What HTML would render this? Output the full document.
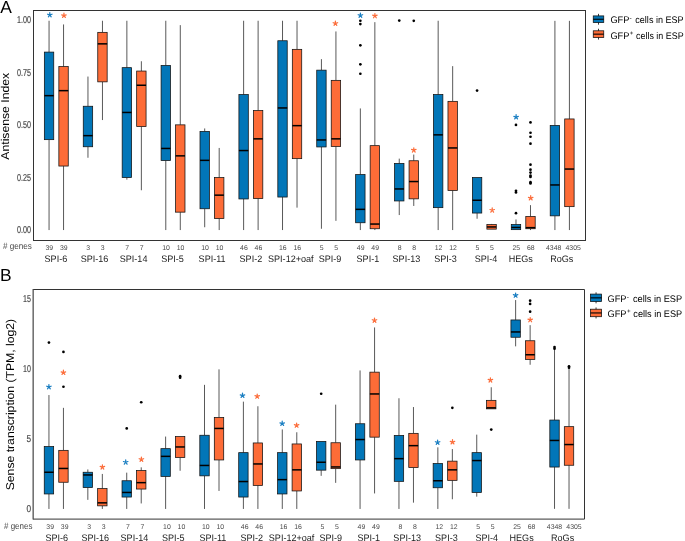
<!DOCTYPE html>
<html><head><meta charset="utf-8"><style>
html,body{margin:0;padding:0;background:#fff;width:685px;height:541px;overflow:hidden}
svg{display:block;will-change:transform}
text{font-family:"Liberation Sans", sans-serif;text-rendering:geometricPrecision}
.w{stroke:#222;stroke-width:0.75}
.bx{stroke:#111;stroke-width:0.75}
.md{stroke:#000;stroke-width:1.5}
.fr{fill:none;stroke:#333333;stroke-width:1}
.tk{fill:#4a4a4a;font-size:10px;stroke:#4a4a4a;stroke-width:0.2px}
.nm{fill:#4a4a4a;font-size:6.9px}
.gl{fill:#1a1a1a;font-size:9.45px}
.lg{fill:#000;font-size:9.6px}
</style></head><body>
<svg width="685" height="541" viewBox="0 0 685 541">
<text x="0.2" y="12.6" style="font-size:17.4px" fill="#000">A</text>
<text x="0" y="280.9" style="font-size:17.4px" fill="#000">B</text>
<text transform="translate(9.3,116.3) scale(0.93,1) rotate(-90)" text-anchor="middle" style="font-size:12.2px" fill="#000">Antisense Index</text>
<text transform="translate(13.9,404.6) scale(0.93,1) rotate(-90)" text-anchor="middle" style="font-size:12.2px" fill="#000">Sense transcription (TPM, log2)</text>
<text x="31" y="23.45" text-anchor="end" class="tk" textLength="14" lengthAdjust="spacingAndGlyphs">1.00</text>
<text x="31" y="75.89" text-anchor="end" class="tk" textLength="14" lengthAdjust="spacingAndGlyphs">0.75</text>
<text x="31" y="128.33" text-anchor="end" class="tk" textLength="14" lengthAdjust="spacingAndGlyphs">0.50</text>
<text x="31" y="180.76" text-anchor="end" class="tk" textLength="14" lengthAdjust="spacingAndGlyphs">0.25</text>
<text x="31" y="233.20" text-anchor="end" class="tk" textLength="14" lengthAdjust="spacingAndGlyphs">0.00</text>
<text x="31" y="302.25" text-anchor="end" class="tk" textLength="7.9" lengthAdjust="spacingAndGlyphs">15</text>
<text x="31" y="372.02" text-anchor="end" class="tk" textLength="7.9" lengthAdjust="spacingAndGlyphs">10</text>
<text x="31" y="441.79" text-anchor="end" class="tk" textLength="4.6" lengthAdjust="spacingAndGlyphs">5</text>
<text x="31" y="511.55" text-anchor="end" class="tk" textLength="4.6" lengthAdjust="spacingAndGlyphs">0</text>
<line x1="49.05" y1="20.75" x2="49.05" y2="52.10" class="w"/>
<line x1="49.05" y1="139.65" x2="49.05" y2="230.05" class="w"/>
<rect x="44.35" y="52.10" width="9.40" height="87.55" fill="#0276B8" class="bx"/>
<line x1="44.35" y1="95.65" x2="53.75" y2="95.65" class="md"/>
<line x1="63.55" y1="24.45" x2="63.55" y2="66.55" class="w"/>
<line x1="63.55" y1="166.05" x2="63.55" y2="230.05" class="w"/>
<rect x="58.85" y="66.55" width="9.40" height="99.50" fill="#FD6C37" class="bx"/>
<line x1="58.85" y1="90.65" x2="68.25" y2="90.65" class="md"/>
<line x1="87.96" y1="76.55" x2="87.96" y2="106.25" class="w"/>
<line x1="87.96" y1="146.75" x2="87.96" y2="157.75" class="w"/>
<rect x="83.26" y="106.25" width="9.40" height="40.50" fill="#0276B8" class="bx"/>
<line x1="83.26" y1="135.65" x2="92.66" y2="135.65" class="md"/>
<line x1="102.46" y1="20.75" x2="102.46" y2="32.35" class="w"/>
<line x1="102.46" y1="81.85" x2="102.46" y2="120.05" class="w"/>
<rect x="97.76" y="32.35" width="9.40" height="49.50" fill="#FD6C37" class="bx"/>
<line x1="97.76" y1="43.85" x2="107.16" y2="43.85" class="md"/>
<line x1="126.87" y1="20.75" x2="126.87" y2="67.65" class="w"/>
<line x1="126.87" y1="177.55" x2="126.87" y2="179.65" class="w"/>
<rect x="122.17" y="67.65" width="9.40" height="109.90" fill="#0276B8" class="bx"/>
<line x1="122.17" y1="112.45" x2="131.57" y2="112.45" class="md"/>
<line x1="141.37" y1="61.25" x2="141.37" y2="71.05" class="w"/>
<line x1="141.37" y1="126.55" x2="141.37" y2="190.25" class="w"/>
<rect x="136.67" y="71.05" width="9.40" height="55.50" fill="#FD6C37" class="bx"/>
<line x1="136.67" y1="85.25" x2="146.07" y2="85.25" class="md"/>
<line x1="165.79" y1="20.75" x2="165.79" y2="65.45" class="w"/>
<line x1="165.79" y1="160.55" x2="165.79" y2="230.05" class="w"/>
<rect x="161.09" y="65.45" width="9.40" height="95.10" fill="#0276B8" class="bx"/>
<line x1="161.09" y1="148.45" x2="170.49" y2="148.45" class="md"/>
<line x1="180.29" y1="25.15" x2="180.29" y2="124.85" class="w"/>
<line x1="180.29" y1="212.15" x2="180.29" y2="230.05" class="w"/>
<rect x="175.59" y="124.85" width="9.40" height="87.30" fill="#FD6C37" class="bx"/>
<line x1="175.59" y1="155.85" x2="184.99" y2="155.85" class="md"/>
<line x1="204.70" y1="128.45" x2="204.70" y2="131.45" class="w"/>
<line x1="204.70" y1="208.75" x2="204.70" y2="227.25" class="w"/>
<rect x="200.00" y="131.45" width="9.40" height="77.30" fill="#0276B8" class="bx"/>
<line x1="200.00" y1="160.35" x2="209.40" y2="160.35" class="md"/>
<line x1="219.20" y1="147.95" x2="219.20" y2="177.55" class="w"/>
<line x1="219.20" y1="218.55" x2="219.20" y2="230.05" class="w"/>
<rect x="214.50" y="177.55" width="9.40" height="41.00" fill="#FD6C37" class="bx"/>
<line x1="214.50" y1="195.15" x2="223.90" y2="195.15" class="md"/>
<line x1="243.61" y1="20.75" x2="243.61" y2="94.55" class="w"/>
<line x1="243.61" y1="198.95" x2="243.61" y2="230.05" class="w"/>
<rect x="238.91" y="94.55" width="9.40" height="104.40" fill="#0276B8" class="bx"/>
<line x1="238.91" y1="150.55" x2="248.31" y2="150.55" class="md"/>
<line x1="258.11" y1="20.75" x2="258.11" y2="110.55" class="w"/>
<line x1="258.11" y1="198.55" x2="258.11" y2="230.05" class="w"/>
<rect x="253.41" y="110.55" width="9.40" height="88.00" fill="#FD6C37" class="bx"/>
<line x1="253.41" y1="138.85" x2="262.81" y2="138.85" class="md"/>
<line x1="282.52" y1="20.75" x2="282.52" y2="40.75" class="w"/>
<line x1="282.52" y1="197.05" x2="282.52" y2="230.05" class="w"/>
<rect x="277.82" y="40.75" width="9.40" height="156.30" fill="#0276B8" class="bx"/>
<line x1="277.82" y1="107.95" x2="287.22" y2="107.95" class="md"/>
<line x1="297.02" y1="20.75" x2="297.02" y2="49.35" class="w"/>
<line x1="297.02" y1="158.65" x2="297.02" y2="207.65" class="w"/>
<rect x="292.32" y="49.35" width="9.40" height="109.30" fill="#FD6C37" class="bx"/>
<line x1="292.32" y1="125.65" x2="301.72" y2="125.65" class="md"/>
<line x1="321.43" y1="59.15" x2="321.43" y2="70.15" class="w"/>
<line x1="321.43" y1="146.95" x2="321.43" y2="228.75" class="w"/>
<rect x="316.73" y="70.15" width="9.40" height="76.80" fill="#0276B8" class="bx"/>
<line x1="316.73" y1="139.95" x2="326.13" y2="139.95" class="md"/>
<line x1="335.93" y1="31.45" x2="335.93" y2="80.35" class="w"/>
<line x1="335.93" y1="146.45" x2="335.93" y2="220.85" class="w"/>
<rect x="331.23" y="80.35" width="9.40" height="66.10" fill="#FD6C37" class="bx"/>
<line x1="331.23" y1="138.85" x2="340.63" y2="138.85" class="md"/>
<line x1="360.35" y1="108.45" x2="360.35" y2="174.55" class="w"/>
<line x1="360.35" y1="222.75" x2="360.35" y2="230.05" class="w"/>
<rect x="355.65" y="174.55" width="9.40" height="48.20" fill="#0276B8" class="bx"/>
<line x1="355.65" y1="209.35" x2="365.05" y2="209.35" class="md"/>
<circle cx="360.35" cy="20.75" r="1.35" fill="#000"/>
<circle cx="360.35" cy="24.05" r="1.35" fill="#000"/>
<circle cx="360.35" cy="45.35" r="1.35" fill="#000"/>
<circle cx="360.35" cy="64.35" r="1.35" fill="#000"/>
<circle cx="360.35" cy="73.75" r="1.35" fill="#000"/>
<line x1="374.85" y1="22.15" x2="374.85" y2="145.65" class="w"/>
<line x1="374.85" y1="228.75" x2="374.85" y2="230.05" class="w"/>
<rect x="370.15" y="145.65" width="9.40" height="83.10" fill="#FD6C37" class="bx"/>
<line x1="370.15" y1="224.05" x2="379.55" y2="224.05" class="md"/>
<line x1="399.26" y1="158.65" x2="399.26" y2="163.45" class="w"/>
<line x1="399.26" y1="200.95" x2="399.26" y2="215.05" class="w"/>
<rect x="394.56" y="163.45" width="9.40" height="37.50" fill="#0276B8" class="bx"/>
<line x1="394.56" y1="188.95" x2="403.96" y2="188.95" class="md"/>
<circle cx="399.26" cy="20.55" r="1.35" fill="#000"/>
<line x1="413.76" y1="154.55" x2="413.76" y2="160.75" class="w"/>
<line x1="413.76" y1="198.85" x2="413.76" y2="205.95" class="w"/>
<rect x="409.06" y="160.75" width="9.40" height="38.10" fill="#FD6C37" class="bx"/>
<line x1="409.06" y1="181.55" x2="418.46" y2="181.55" class="md"/>
<circle cx="413.76" cy="20.85" r="1.35" fill="#000"/>
<line x1="438.17" y1="20.75" x2="438.17" y2="94.55" class="w"/>
<line x1="438.17" y1="207.65" x2="438.17" y2="230.05" class="w"/>
<rect x="433.47" y="94.55" width="9.40" height="113.10" fill="#0276B8" class="bx"/>
<line x1="433.47" y1="134.85" x2="442.87" y2="134.85" class="md"/>
<line x1="452.67" y1="66.15" x2="452.67" y2="101.35" class="w"/>
<line x1="452.67" y1="190.45" x2="452.67" y2="230.05" class="w"/>
<rect x="447.97" y="101.35" width="9.40" height="89.10" fill="#FD6C37" class="bx"/>
<line x1="447.97" y1="147.95" x2="457.37" y2="147.95" class="md"/>
<line x1="477.08" y1="213.05" x2="477.08" y2="218.75" class="w"/>
<rect x="472.38" y="177.55" width="9.40" height="35.50" fill="#0276B8" class="bx"/>
<line x1="472.38" y1="200.25" x2="481.78" y2="200.25" class="md"/>
<circle cx="477.08" cy="90.55" r="1.35" fill="#000"/>
<line x1="491.58" y1="223.95" x2="491.58" y2="224.55" class="w"/>
<rect x="486.88" y="224.55" width="9.40" height="4.60" fill="#FD6C37" class="bx"/>
<line x1="486.88" y1="226.95" x2="496.28" y2="226.95" class="md"/>
<line x1="515.99" y1="219.45" x2="515.99" y2="224.55" class="w"/>
<rect x="511.29" y="224.55" width="9.40" height="5.10" fill="#0276B8" class="bx"/>
<line x1="511.29" y1="227.45" x2="520.69" y2="227.45" class="md"/>
<circle cx="515.99" cy="124.95" r="1.35" fill="#000"/>
<circle cx="515.99" cy="190.85" r="1.35" fill="#000"/>
<circle cx="515.99" cy="192.45" r="1.35" fill="#000"/>
<circle cx="515.99" cy="213.15" r="1.35" fill="#000"/>
<line x1="530.49" y1="205.15" x2="530.49" y2="216.45" class="w"/>
<line x1="530.49" y1="228.75" x2="530.49" y2="230.05" class="w"/>
<rect x="525.79" y="216.45" width="9.40" height="12.30" fill="#FD6C37" class="bx"/>
<line x1="525.79" y1="227.65" x2="535.19" y2="227.65" class="md"/>
<circle cx="530.49" cy="122.45" r="1.35" fill="#000"/>
<circle cx="530.49" cy="132.75" r="1.35" fill="#000"/>
<circle cx="530.49" cy="136.75" r="1.35" fill="#000"/>
<circle cx="530.49" cy="143.65" r="1.35" fill="#000"/>
<circle cx="530.49" cy="164.65" r="1.35" fill="#000"/>
<circle cx="530.49" cy="169.65" r="1.35" fill="#000"/>
<circle cx="530.49" cy="172.55" r="1.35" fill="#000"/>
<circle cx="530.49" cy="175.65" r="1.35" fill="#000"/>
<circle cx="530.49" cy="176.95" r="1.35" fill="#000"/>
<circle cx="530.49" cy="182.15" r="1.35" fill="#000"/>
<circle cx="530.49" cy="183.45" r="1.35" fill="#000"/>
<line x1="554.91" y1="20.85" x2="554.91" y2="125.45" class="w"/>
<line x1="554.91" y1="215.85" x2="554.91" y2="230.05" class="w"/>
<rect x="550.21" y="125.45" width="9.40" height="90.40" fill="#0276B8" class="bx"/>
<line x1="550.21" y1="184.95" x2="559.61" y2="184.95" class="md"/>
<line x1="569.41" y1="20.85" x2="569.41" y2="118.95" class="w"/>
<line x1="569.41" y1="206.65" x2="569.41" y2="230.05" class="w"/>
<rect x="564.71" y="118.95" width="9.40" height="87.70" fill="#FD6C37" class="bx"/>
<line x1="564.71" y1="169.05" x2="574.11" y2="169.05" class="md"/>
<line x1="48.95" y1="395.05" x2="48.95" y2="446.55" class="w"/>
<line x1="48.95" y1="493.95" x2="48.95" y2="508.95" class="w"/>
<rect x="44.25" y="446.55" width="9.40" height="47.40" fill="#0276B8" class="bx"/>
<line x1="44.25" y1="472.25" x2="53.65" y2="472.25" class="md"/>
<circle cx="48.95" cy="342.55" r="1.35" fill="#000"/>
<line x1="63.45" y1="407.85" x2="63.45" y2="450.35" class="w"/>
<line x1="63.45" y1="482.25" x2="63.45" y2="508.95" class="w"/>
<rect x="58.75" y="450.35" width="9.40" height="31.90" fill="#FD6C37" class="bx"/>
<line x1="58.75" y1="468.45" x2="68.15" y2="468.45" class="md"/>
<circle cx="63.45" cy="351.95" r="1.35" fill="#000"/>
<circle cx="63.45" cy="386.75" r="1.35" fill="#000"/>
<line x1="87.84" y1="469.45" x2="87.84" y2="472.25" class="w"/>
<line x1="87.84" y1="487.55" x2="87.84" y2="499.85" class="w"/>
<rect x="83.14" y="472.25" width="9.40" height="15.30" fill="#0276B8" class="bx"/>
<line x1="83.14" y1="474.95" x2="92.54" y2="474.95" class="md"/>
<line x1="102.34" y1="473.95" x2="102.34" y2="488.55" class="w"/>
<line x1="102.34" y1="505.85" x2="102.34" y2="508.95" class="w"/>
<rect x="97.64" y="488.55" width="9.40" height="17.30" fill="#FD6C37" class="bx"/>
<line x1="97.64" y1="502.85" x2="107.04" y2="502.85" class="md"/>
<line x1="126.73" y1="472.65" x2="126.73" y2="480.75" class="w"/>
<line x1="126.73" y1="497.05" x2="126.73" y2="508.95" class="w"/>
<rect x="122.03" y="480.75" width="9.40" height="16.30" fill="#0276B8" class="bx"/>
<line x1="122.03" y1="492.45" x2="131.43" y2="492.45" class="md"/>
<circle cx="126.73" cy="428.45" r="1.35" fill="#000"/>
<line x1="141.23" y1="467.35" x2="141.23" y2="470.55" class="w"/>
<line x1="141.23" y1="489.05" x2="141.23" y2="503.45" class="w"/>
<rect x="136.53" y="470.55" width="9.40" height="18.50" fill="#FD6C37" class="bx"/>
<line x1="136.53" y1="482.65" x2="145.93" y2="482.65" class="md"/>
<circle cx="141.23" cy="402.25" r="1.35" fill="#000"/>
<line x1="165.62" y1="436.55" x2="165.62" y2="448.65" class="w"/>
<line x1="165.62" y1="476.45" x2="165.62" y2="508.95" class="w"/>
<rect x="160.92" y="448.65" width="9.40" height="27.80" fill="#0276B8" class="bx"/>
<line x1="160.92" y1="456.35" x2="170.32" y2="456.35" class="md"/>
<line x1="180.12" y1="457.55" x2="180.12" y2="470.75" class="w"/>
<rect x="175.42" y="436.55" width="9.40" height="21.00" fill="#FD6C37" class="bx"/>
<line x1="175.42" y1="446.95" x2="184.82" y2="446.95" class="md"/>
<circle cx="180.12" cy="376.15" r="1.35" fill="#000"/>
<circle cx="180.12" cy="377.65" r="1.35" fill="#000"/>
<line x1="204.51" y1="384.85" x2="204.51" y2="435.25" class="w"/>
<line x1="204.51" y1="475.85" x2="204.51" y2="508.95" class="w"/>
<rect x="199.81" y="435.25" width="9.40" height="40.60" fill="#0276B8" class="bx"/>
<line x1="199.81" y1="465.45" x2="209.21" y2="465.45" class="md"/>
<line x1="219.01" y1="369.35" x2="219.01" y2="417.45" class="w"/>
<line x1="219.01" y1="459.95" x2="219.01" y2="490.95" class="w"/>
<rect x="214.31" y="417.45" width="9.40" height="42.50" fill="#FD6C37" class="bx"/>
<line x1="214.31" y1="428.45" x2="223.71" y2="428.45" class="md"/>
<line x1="243.40" y1="401.65" x2="243.40" y2="452.65" class="w"/>
<line x1="243.40" y1="497.05" x2="243.40" y2="508.95" class="w"/>
<rect x="238.70" y="452.65" width="9.40" height="44.40" fill="#0276B8" class="bx"/>
<line x1="238.70" y1="481.55" x2="248.10" y2="481.55" class="md"/>
<line x1="257.90" y1="406.25" x2="257.90" y2="442.95" class="w"/>
<line x1="257.90" y1="485.45" x2="257.90" y2="508.95" class="w"/>
<rect x="253.20" y="442.95" width="9.40" height="42.50" fill="#FD6C37" class="bx"/>
<line x1="253.20" y1="463.95" x2="262.60" y2="463.95" class="md"/>
<line x1="282.29" y1="429.45" x2="282.29" y2="452.65" class="w"/>
<line x1="282.29" y1="493.95" x2="282.29" y2="508.95" class="w"/>
<rect x="277.59" y="452.65" width="9.40" height="41.30" fill="#0276B8" class="bx"/>
<line x1="277.59" y1="479.65" x2="286.99" y2="479.65" class="md"/>
<line x1="296.79" y1="432.25" x2="296.79" y2="443.95" class="w"/>
<line x1="296.79" y1="490.95" x2="296.79" y2="508.95" class="w"/>
<rect x="292.09" y="443.95" width="9.40" height="47.00" fill="#FD6C37" class="bx"/>
<line x1="292.09" y1="469.85" x2="301.49" y2="469.85" class="md"/>
<line x1="321.18" y1="470.15" x2="321.18" y2="475.85" class="w"/>
<rect x="316.48" y="441.45" width="9.40" height="28.70" fill="#0276B8" class="bx"/>
<line x1="316.48" y1="462.25" x2="325.88" y2="462.25" class="md"/>
<circle cx="321.18" cy="393.75" r="1.35" fill="#000"/>
<line x1="335.68" y1="404.65" x2="335.68" y2="442.75" class="w"/>
<line x1="335.68" y1="468.65" x2="335.68" y2="482.85" class="w"/>
<rect x="330.98" y="442.75" width="9.40" height="25.90" fill="#FD6C37" class="bx"/>
<line x1="330.98" y1="466.95" x2="340.38" y2="466.95" class="md"/>
<line x1="360.07" y1="370.45" x2="360.07" y2="423.75" class="w"/>
<line x1="360.07" y1="459.95" x2="360.07" y2="508.95" class="w"/>
<rect x="355.37" y="423.75" width="9.40" height="36.20" fill="#0276B8" class="bx"/>
<line x1="355.37" y1="439.55" x2="364.77" y2="439.55" class="md"/>
<line x1="374.57" y1="327.45" x2="374.57" y2="372.15" class="w"/>
<line x1="374.57" y1="437.15" x2="374.57" y2="493.45" class="w"/>
<rect x="369.87" y="372.15" width="9.40" height="65.00" fill="#FD6C37" class="bx"/>
<line x1="369.87" y1="393.95" x2="379.27" y2="393.95" class="md"/>
<line x1="398.96" y1="398.25" x2="398.96" y2="435.45" class="w"/>
<line x1="398.96" y1="481.35" x2="398.96" y2="508.95" class="w"/>
<rect x="394.26" y="435.45" width="9.40" height="45.90" fill="#0276B8" class="bx"/>
<line x1="394.26" y1="458.65" x2="403.66" y2="458.65" class="md"/>
<line x1="413.46" y1="407.05" x2="413.46" y2="433.35" class="w"/>
<line x1="413.46" y1="467.55" x2="413.46" y2="502.65" class="w"/>
<rect x="408.76" y="433.35" width="9.40" height="34.20" fill="#FD6C37" class="bx"/>
<line x1="408.76" y1="445.65" x2="418.16" y2="445.65" class="md"/>
<line x1="437.85" y1="447.35" x2="437.85" y2="463.55" class="w"/>
<line x1="437.85" y1="487.75" x2="437.85" y2="508.95" class="w"/>
<rect x="433.15" y="463.55" width="9.40" height="24.20" fill="#0276B8" class="bx"/>
<line x1="433.15" y1="480.75" x2="442.55" y2="480.75" class="md"/>
<line x1="452.35" y1="449.05" x2="452.35" y2="461.15" class="w"/>
<line x1="452.35" y1="480.35" x2="452.35" y2="499.25" class="w"/>
<rect x="447.65" y="461.15" width="9.40" height="19.20" fill="#FD6C37" class="bx"/>
<line x1="447.65" y1="469.85" x2="457.05" y2="469.85" class="md"/>
<circle cx="452.35" cy="407.85" r="1.35" fill="#000"/>
<line x1="476.74" y1="434.65" x2="476.74" y2="452.65" class="w"/>
<line x1="476.74" y1="492.45" x2="476.74" y2="496.65" class="w"/>
<rect x="472.04" y="452.65" width="9.40" height="39.80" fill="#0276B8" class="bx"/>
<line x1="472.04" y1="460.55" x2="481.44" y2="460.55" class="md"/>
<line x1="491.24" y1="387.25" x2="491.24" y2="400.35" class="w"/>
<rect x="486.54" y="400.35" width="9.40" height="8.50" fill="#FD6C37" class="bx"/>
<line x1="486.54" y1="407.85" x2="495.94" y2="407.85" class="md"/>
<circle cx="491.24" cy="429.55" r="1.35" fill="#000"/>
<line x1="515.63" y1="300.05" x2="515.63" y2="319.95" class="w"/>
<line x1="515.63" y1="337.25" x2="515.63" y2="346.35" class="w"/>
<rect x="510.93" y="319.95" width="9.40" height="17.30" fill="#0276B8" class="bx"/>
<line x1="510.93" y1="331.95" x2="520.33" y2="331.95" class="md"/>
<line x1="530.13" y1="325.15" x2="530.13" y2="340.75" class="w"/>
<line x1="530.13" y1="359.45" x2="530.13" y2="364.75" class="w"/>
<rect x="525.43" y="340.75" width="9.40" height="18.70" fill="#FD6C37" class="bx"/>
<line x1="525.43" y1="354.75" x2="534.83" y2="354.75" class="md"/>
<circle cx="530.13" cy="300.65" r="1.35" fill="#000"/>
<circle cx="530.13" cy="303.95" r="1.35" fill="#000"/>
<circle cx="530.13" cy="311.65" r="1.35" fill="#000"/>
<line x1="554.52" y1="348.25" x2="554.52" y2="420.05" class="w"/>
<line x1="554.52" y1="467.05" x2="554.52" y2="508.85" class="w"/>
<rect x="549.82" y="420.05" width="9.40" height="47.00" fill="#0276B8" class="bx"/>
<line x1="549.82" y1="440.45" x2="559.22" y2="440.45" class="md"/>
<circle cx="554.52" cy="347.05" r="1.35" fill="#000"/>
<circle cx="554.52" cy="348.65" r="1.35" fill="#000"/>
<line x1="569.02" y1="367.05" x2="569.02" y2="426.65" class="w"/>
<line x1="569.02" y1="465.25" x2="569.02" y2="508.85" class="w"/>
<rect x="564.32" y="426.65" width="9.40" height="38.60" fill="#FD6C37" class="bx"/>
<line x1="564.32" y1="444.55" x2="573.72" y2="444.55" class="md"/>
<circle cx="569.02" cy="366.35" r="1.35" fill="#000"/>
<circle cx="569.02" cy="367.75" r="1.35" fill="#000"/>
<path d="M49.80 14.95L49.80 12.60M49.80 14.95L52.03 14.22M49.80 14.95L51.18 16.85M49.80 14.95L48.42 16.85M49.80 14.95L47.57 14.22" stroke="#1B7FC2" stroke-width="1.25" stroke-linecap="round" fill="none"/>
<path d="M63.95 15.55L63.95 13.20M63.95 15.55L66.18 14.82M63.95 15.55L65.33 17.45M63.95 15.55L62.57 17.45M63.95 15.55L61.72 14.82" stroke="#FC6E3C" stroke-width="1.25" stroke-linecap="round" fill="none"/>
<path d="M335.40 23.45L335.40 21.10M335.40 23.45L337.63 22.72M335.40 23.45L336.78 25.35M335.40 23.45L334.02 25.35M335.40 23.45L333.17 22.72" stroke="#FC6E3C" stroke-width="1.25" stroke-linecap="round" fill="none"/>
<path d="M360.40 15.45L360.40 13.10M360.40 15.45L362.63 14.72M360.40 15.45L361.78 17.35M360.40 15.45L359.02 17.35M360.40 15.45L358.17 14.72" stroke="#1B7FC2" stroke-width="1.25" stroke-linecap="round" fill="none"/>
<path d="M374.90 15.85L374.90 13.50M374.90 15.85L377.13 15.12M374.90 15.85L376.28 17.75M374.90 15.85L373.52 17.75M374.90 15.85L372.67 15.12" stroke="#FC6E3C" stroke-width="1.25" stroke-linecap="round" fill="none"/>
<path d="M413.80 150.15L413.80 147.80M413.80 150.15L416.03 149.42M413.80 150.15L415.18 152.05M413.80 150.15L412.42 152.05M413.80 150.15L411.57 149.42" stroke="#FC6E3C" stroke-width="1.25" stroke-linecap="round" fill="none"/>
<path d="M492.20 210.25L492.20 207.90M492.20 210.25L494.43 209.52M492.20 210.25L493.58 212.15M492.20 210.25L490.82 212.15M492.20 210.25L489.97 209.52" stroke="#FC6E3C" stroke-width="1.25" stroke-linecap="round" fill="none"/>
<path d="M516.10 117.05L516.10 114.70M516.10 117.05L518.33 116.32M516.10 117.05L517.48 118.95M516.10 117.05L514.72 118.95M516.10 117.05L513.87 116.32" stroke="#1B7FC2" stroke-width="1.25" stroke-linecap="round" fill="none"/>
<path d="M530.70 198.05L530.70 195.70M530.70 198.05L532.93 197.32M530.70 198.05L532.08 199.95M530.70 198.05L529.32 199.95M530.70 198.05L528.47 197.32" stroke="#FC6E3C" stroke-width="1.25" stroke-linecap="round" fill="none"/>
<path d="M48.90 386.95L48.90 384.60M48.90 386.95L51.13 386.22M48.90 386.95L50.28 388.85M48.90 386.95L47.52 388.85M48.90 386.95L46.67 386.22" stroke="#1B7FC2" stroke-width="1.25" stroke-linecap="round" fill="none"/>
<path d="M63.40 372.55L63.40 370.20M63.40 372.55L65.63 371.82M63.40 372.55L64.78 374.45M63.40 372.55L62.02 374.45M63.40 372.55L61.17 371.82" stroke="#FC6E3C" stroke-width="1.25" stroke-linecap="round" fill="none"/>
<path d="M102.40 467.15L102.40 464.80M102.40 467.15L104.63 466.42M102.40 467.15L103.78 469.05M102.40 467.15L101.02 469.05M102.40 467.15L100.17 466.42" stroke="#FC6E3C" stroke-width="1.25" stroke-linecap="round" fill="none"/>
<path d="M125.70 462.25L125.70 459.90M125.70 462.25L127.93 461.52M125.70 462.25L127.08 464.15M125.70 462.25L124.32 464.15M125.70 462.25L123.47 461.52" stroke="#1B7FC2" stroke-width="1.25" stroke-linecap="round" fill="none"/>
<path d="M141.40 459.45L141.40 457.10M141.40 459.45L143.63 458.72M141.40 459.45L142.78 461.35M141.40 459.45L140.02 461.35M141.40 459.45L139.17 458.72" stroke="#FC6E3C" stroke-width="1.25" stroke-linecap="round" fill="none"/>
<path d="M242.50 395.55L242.50 393.20M242.50 395.55L244.73 394.82M242.50 395.55L243.88 397.45M242.50 395.55L241.12 397.45M242.50 395.55L240.27 394.82" stroke="#1B7FC2" stroke-width="1.25" stroke-linecap="round" fill="none"/>
<path d="M257.20 396.35L257.20 394.00M257.20 396.35L259.43 395.62M257.20 396.35L258.58 398.25M257.20 396.35L255.82 398.25M257.20 396.35L254.97 395.62" stroke="#FC6E3C" stroke-width="1.25" stroke-linecap="round" fill="none"/>
<path d="M282.20 423.55L282.20 421.20M282.20 423.55L284.43 422.82M282.20 423.55L283.58 425.45M282.20 423.55L280.82 425.45M282.20 423.55L279.97 422.82" stroke="#1B7FC2" stroke-width="1.25" stroke-linecap="round" fill="none"/>
<path d="M296.60 425.35L296.60 423.00M296.60 425.35L298.83 424.62M296.60 425.35L297.98 427.25M296.60 425.35L295.22 427.25M296.60 425.35L294.37 424.62" stroke="#FC6E3C" stroke-width="1.25" stroke-linecap="round" fill="none"/>
<path d="M374.50 320.45L374.50 318.10M374.50 320.45L376.73 319.72M374.50 320.45L375.88 322.35M374.50 320.45L373.12 322.35M374.50 320.45L372.27 319.72" stroke="#FC6E3C" stroke-width="1.25" stroke-linecap="round" fill="none"/>
<path d="M437.60 442.45L437.60 440.10M437.60 442.45L439.83 441.72M437.60 442.45L438.98 444.35M437.60 442.45L436.22 444.35M437.60 442.45L435.37 441.72" stroke="#1B7FC2" stroke-width="1.25" stroke-linecap="round" fill="none"/>
<path d="M452.50 442.05L452.50 439.70M452.50 442.05L454.73 441.32M452.50 442.05L453.88 443.95M452.50 442.05L451.12 443.95M452.50 442.05L450.27 441.32" stroke="#FC6E3C" stroke-width="1.25" stroke-linecap="round" fill="none"/>
<path d="M490.40 380.15L490.40 377.80M490.40 380.15L492.63 379.42M490.40 380.15L491.78 382.05M490.40 380.15L489.02 382.05M490.40 380.15L488.17 379.42" stroke="#FC6E3C" stroke-width="1.25" stroke-linecap="round" fill="none"/>
<path d="M515.60 295.35L515.60 293.00M515.60 295.35L517.83 294.62M515.60 295.35L516.98 297.25M515.60 295.35L514.22 297.25M515.60 295.35L513.37 294.62" stroke="#1B7FC2" stroke-width="1.25" stroke-linecap="round" fill="none"/>
<path d="M530.20 319.85L530.20 317.50M530.20 319.85L532.43 319.12M530.20 319.85L531.58 321.75M530.20 319.85L528.82 321.75M530.20 319.85L527.97 319.12" stroke="#FC6E3C" stroke-width="1.25" stroke-linecap="round" fill="none"/>
<rect x="33.5" y="10.5" width="552" height="230" class="fr"/>
<path d="M33.15 289.5H584.5V519.1H33.15" class="fr"/>
<line x1="33.15" y1="289" x2="33.15" y2="519.6" style="stroke:#454545;stroke-width:1.2"/>
<text x="49.35" y="249.6" text-anchor="middle" class="nm">39</text>
<text x="50.15" y="529.3" text-anchor="middle" class="nm">39</text>
<text x="63.85" y="249.6" text-anchor="middle" class="nm">39</text>
<text x="64.65" y="529.3" text-anchor="middle" class="nm">39</text>
<text x="88.26" y="249.6" text-anchor="middle" class="nm">3</text>
<text x="89.06" y="529.3" text-anchor="middle" class="nm">3</text>
<text x="102.76" y="249.6" text-anchor="middle" class="nm">3</text>
<text x="103.56" y="529.3" text-anchor="middle" class="nm">3</text>
<text x="127.17" y="249.6" text-anchor="middle" class="nm">7</text>
<text x="127.97" y="529.3" text-anchor="middle" class="nm">7</text>
<text x="141.67" y="249.6" text-anchor="middle" class="nm">7</text>
<text x="142.47" y="529.3" text-anchor="middle" class="nm">7</text>
<text x="166.09" y="249.6" text-anchor="middle" class="nm">10</text>
<text x="166.89" y="529.3" text-anchor="middle" class="nm">10</text>
<text x="180.59" y="249.6" text-anchor="middle" class="nm">10</text>
<text x="181.39" y="529.3" text-anchor="middle" class="nm">10</text>
<text x="205.00" y="249.6" text-anchor="middle" class="nm">10</text>
<text x="205.80" y="529.3" text-anchor="middle" class="nm">10</text>
<text x="219.50" y="249.6" text-anchor="middle" class="nm">10</text>
<text x="220.30" y="529.3" text-anchor="middle" class="nm">10</text>
<text x="243.91" y="249.6" text-anchor="middle" class="nm">46</text>
<text x="244.71" y="529.3" text-anchor="middle" class="nm">46</text>
<text x="258.41" y="249.6" text-anchor="middle" class="nm">46</text>
<text x="259.21" y="529.3" text-anchor="middle" class="nm">46</text>
<text x="282.82" y="249.6" text-anchor="middle" class="nm">16</text>
<text x="283.62" y="529.3" text-anchor="middle" class="nm">16</text>
<text x="297.32" y="249.6" text-anchor="middle" class="nm">16</text>
<text x="298.12" y="529.3" text-anchor="middle" class="nm">16</text>
<text x="321.73" y="249.6" text-anchor="middle" class="nm">5</text>
<text x="322.53" y="529.3" text-anchor="middle" class="nm">5</text>
<text x="336.23" y="249.6" text-anchor="middle" class="nm">5</text>
<text x="337.03" y="529.3" text-anchor="middle" class="nm">5</text>
<text x="360.65" y="249.6" text-anchor="middle" class="nm">49</text>
<text x="361.45" y="529.3" text-anchor="middle" class="nm">49</text>
<text x="375.15" y="249.6" text-anchor="middle" class="nm">49</text>
<text x="375.95" y="529.3" text-anchor="middle" class="nm">49</text>
<text x="399.56" y="249.6" text-anchor="middle" class="nm">8</text>
<text x="400.36" y="529.3" text-anchor="middle" class="nm">8</text>
<text x="414.06" y="249.6" text-anchor="middle" class="nm">8</text>
<text x="414.86" y="529.3" text-anchor="middle" class="nm">8</text>
<text x="438.47" y="249.6" text-anchor="middle" class="nm">12</text>
<text x="439.27" y="529.3" text-anchor="middle" class="nm">12</text>
<text x="452.97" y="249.6" text-anchor="middle" class="nm">12</text>
<text x="453.77" y="529.3" text-anchor="middle" class="nm">12</text>
<text x="477.38" y="249.6" text-anchor="middle" class="nm">5</text>
<text x="478.18" y="529.3" text-anchor="middle" class="nm">5</text>
<text x="491.88" y="249.6" text-anchor="middle" class="nm">5</text>
<text x="492.68" y="529.3" text-anchor="middle" class="nm">5</text>
<text x="516.29" y="249.6" text-anchor="middle" class="nm">25</text>
<text x="517.09" y="529.3" text-anchor="middle" class="nm">25</text>
<text x="530.79" y="249.6" text-anchor="middle" class="nm">68</text>
<text x="531.59" y="529.3" text-anchor="middle" class="nm">68</text>
<text x="553.70" y="249.6" text-anchor="middle" class="nm">4348</text>
<text x="554.50" y="529.3" text-anchor="middle" class="nm">4348</text>
<text x="573.20" y="249.6" text-anchor="middle" class="nm">4305</text>
<text x="574.00" y="529.3" text-anchor="middle" class="nm">4305</text>
<text x="55.90" y="261.5" text-anchor="middle" class="gl" textLength="22.63" lengthAdjust="spacingAndGlyphs">SPI-6</text>
<text x="56.70" y="540.9" text-anchor="middle" class="gl" textLength="22.63" lengthAdjust="spacingAndGlyphs">SPI-6</text>
<text x="94.50" y="261.5" text-anchor="middle" class="gl" textLength="27.67" lengthAdjust="spacingAndGlyphs">SPI-16</text>
<text x="95.30" y="540.9" text-anchor="middle" class="gl" textLength="27.67" lengthAdjust="spacingAndGlyphs">SPI-16</text>
<text x="133.60" y="261.5" text-anchor="middle" class="gl" textLength="27.67" lengthAdjust="spacingAndGlyphs">SPI-14</text>
<text x="134.40" y="540.9" text-anchor="middle" class="gl" textLength="27.67" lengthAdjust="spacingAndGlyphs">SPI-14</text>
<text x="172.50" y="261.5" text-anchor="middle" class="gl" textLength="22.63" lengthAdjust="spacingAndGlyphs">SPI-5</text>
<text x="173.30" y="540.9" text-anchor="middle" class="gl" textLength="22.63" lengthAdjust="spacingAndGlyphs">SPI-5</text>
<text x="212.10" y="261.5" text-anchor="middle" class="gl" textLength="27.00" lengthAdjust="spacingAndGlyphs">SPI-11</text>
<text x="212.90" y="540.9" text-anchor="middle" class="gl" textLength="27.00" lengthAdjust="spacingAndGlyphs">SPI-11</text>
<text x="250.90" y="261.5" text-anchor="middle" class="gl" textLength="22.63" lengthAdjust="spacingAndGlyphs">SPI-2</text>
<text x="251.70" y="540.9" text-anchor="middle" class="gl" textLength="22.63" lengthAdjust="spacingAndGlyphs">SPI-2</text>
<text x="290.80" y="261.5" text-anchor="middle" class="gl" textLength="45.53" lengthAdjust="spacingAndGlyphs">SPI-12+oaf</text>
<text x="291.60" y="540.9" text-anchor="middle" class="gl" textLength="45.53" lengthAdjust="spacingAndGlyphs">SPI-12+oaf</text>
<text x="330.00" y="261.5" text-anchor="middle" class="gl" textLength="22.63" lengthAdjust="spacingAndGlyphs">SPI-9</text>
<text x="330.80" y="540.9" text-anchor="middle" class="gl" textLength="22.63" lengthAdjust="spacingAndGlyphs">SPI-9</text>
<text x="367.90" y="261.5" text-anchor="middle" class="gl" textLength="22.63" lengthAdjust="spacingAndGlyphs">SPI-1</text>
<text x="368.70" y="540.9" text-anchor="middle" class="gl" textLength="22.63" lengthAdjust="spacingAndGlyphs">SPI-1</text>
<text x="406.40" y="261.5" text-anchor="middle" class="gl" textLength="27.67" lengthAdjust="spacingAndGlyphs">SPI-13</text>
<text x="407.20" y="540.9" text-anchor="middle" class="gl" textLength="27.67" lengthAdjust="spacingAndGlyphs">SPI-13</text>
<text x="445.60" y="261.5" text-anchor="middle" class="gl" textLength="22.63" lengthAdjust="spacingAndGlyphs">SPI-3</text>
<text x="446.40" y="540.9" text-anchor="middle" class="gl" textLength="22.63" lengthAdjust="spacingAndGlyphs">SPI-3</text>
<text x="486.00" y="261.5" text-anchor="middle" class="gl" textLength="22.63" lengthAdjust="spacingAndGlyphs">SPI-4</text>
<text x="486.80" y="540.9" text-anchor="middle" class="gl" textLength="22.63" lengthAdjust="spacingAndGlyphs">SPI-4</text>
<text x="520.80" y="261.5" text-anchor="middle" class="gl" textLength="24.14" lengthAdjust="spacingAndGlyphs">HEGs</text>
<text x="521.60" y="540.9" text-anchor="middle" class="gl" textLength="24.14" lengthAdjust="spacingAndGlyphs">HEGs</text>
<text x="561.80" y="261.5" text-anchor="middle" class="gl" textLength="23.13" lengthAdjust="spacingAndGlyphs">RoGs</text>
<text x="562.60" y="540.9" text-anchor="middle" class="gl" textLength="23.13" lengthAdjust="spacingAndGlyphs">RoGs</text>
<text x="3.0" y="248.8" class="nm" style="font-size:9px" textLength="28.9" lengthAdjust="spacingAndGlyphs">&#35; genes</text>
<text x="4.0" y="529.2" class="nm" style="font-size:9px" textLength="28.4" lengthAdjust="spacingAndGlyphs">&#35; genes</text>
<line x1="598.50" y1="13.85" x2="598.50" y2="24.65" class="w" style="stroke-width:0.9"/>
<rect x="593.25" y="15.90" width="10.50" height="6.70" fill="#0276B8" class="bx"/>
<line x1="593.25" y1="19.25" x2="603.75" y2="19.25" class="md" style="stroke-width:1.1"/>
<text x="610.40" y="23.30" class="lg" textLength="19.0" lengthAdjust="spacingAndGlyphs">GFP</text>
<text x="629.60" y="20.30" class="lg" style="font-size:6.6px">-</text>
<text x="635.30" y="23.30" class="lg" textLength="48.30" lengthAdjust="spacingAndGlyphs">cells in ESP</text>
<line x1="598.50" y1="28.75" x2="598.50" y2="39.55" class="w" style="stroke-width:0.9"/>
<rect x="593.25" y="30.80" width="10.50" height="6.70" fill="#FD6C37" class="bx"/>
<line x1="593.25" y1="34.15" x2="603.75" y2="34.15" class="md" style="stroke-width:1.1"/>
<text x="610.40" y="38.50" class="lg" textLength="19.0" lengthAdjust="spacingAndGlyphs">GFP</text>
<text x="629.80" y="35.20" class="lg" style="font-size:6.2px">+</text>
<text x="636.00" y="38.50" class="lg" textLength="47.60" lengthAdjust="spacingAndGlyphs">cells in ESP</text>
<line x1="596.05" y1="292.35" x2="596.05" y2="303.35" class="w" style="stroke-width:0.9"/>
<rect x="590.50" y="294.10" width="11.10" height="7.50" fill="#0276B8" class="bx"/>
<line x1="590.50" y1="297.85" x2="601.60" y2="297.85" class="md" style="stroke-width:1.1"/>
<text x="607.50" y="301.60" class="lg" textLength="19.0" lengthAdjust="spacingAndGlyphs">GFP</text>
<text x="626.70" y="298.60" class="lg" style="font-size:6.6px">-</text>
<text x="632.90" y="301.60" class="lg" textLength="49.30" lengthAdjust="spacingAndGlyphs">cells in ESP</text>
<line x1="596.05" y1="307.45" x2="596.05" y2="318.45" class="w" style="stroke-width:0.9"/>
<rect x="590.50" y="309.20" width="11.10" height="7.50" fill="#FD6C37" class="bx"/>
<line x1="590.50" y1="312.95" x2="601.60" y2="312.95" class="md" style="stroke-width:1.1"/>
<text x="607.50" y="316.60" class="lg" textLength="19.0" lengthAdjust="spacingAndGlyphs">GFP</text>
<text x="626.90" y="313.30" class="lg" style="font-size:6.2px">+</text>
<text x="633.30" y="316.60" class="lg" textLength="48.90" lengthAdjust="spacingAndGlyphs">cells in ESP</text>
</svg></body></html>
